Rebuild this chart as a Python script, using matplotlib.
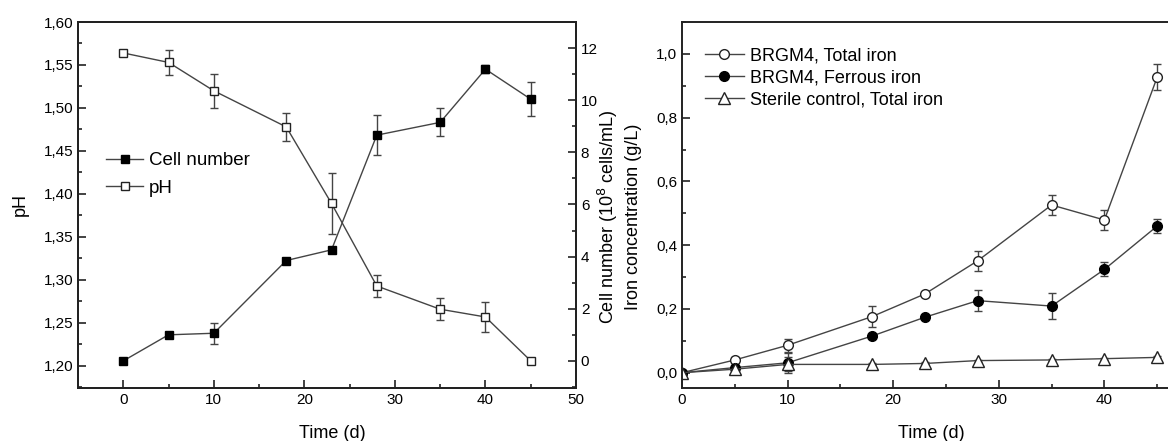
import matplotlib
matplotlib.use("Agg")
import matplotlib.pyplot as plt
from matplotlib.ticker import MultipleLocator, FuncFormatter

plt.rcParams['font.family'] = ['Liberation Sans', 'DejaVu Sans']

# left panel: pH and cell number vs time
days = [0, 5, 10, 18, 23, 28, 35, 40, 45]
ph = [1.564, 1.553, 1.520, 1.478, 1.389, 1.293, 1.266, 1.257, 1.206]
ph_err = [0.002, 0.015, 0.020, 0.016, 0.035, 0.013, 0.013, 0.017, 0.002]
cells = [0.0, 1.0, 1.06, 3.85, 4.26, 8.66, 9.15, 11.19, 10.04]
cells_err = [0.05, 0.05, 0.41, 0.08, 0.08, 0.76, 0.54, 0.15, 0.66]

# right panel: iron concentration vs time
total_iron = [0.0, 0.040, 0.086, 0.176, 0.247, 0.351, 0.526, 0.479, 0.927]
total_iron_err = [0.003, 0.010, 0.020, 0.033, 0.006, 0.031, 0.031, 0.030, 0.040]
ferrous_iron = [0.0, 0.016, 0.031, 0.115, 0.174, 0.226, 0.209, 0.324, 0.460]
ferrous_iron_err = [0.003, 0.006, 0.032, 0.006, 0.006, 0.032, 0.042, 0.022, 0.021]
sterile_iron = [0.0, 0.011, 0.026, 0.026, 0.029, 0.038, 0.040, 0.044, 0.048]
sterile_iron_err = [0.002, 0.004, 0.022, 0.003, 0.003, 0.003, 0.003, 0.003, 0.003]

LINE = '#444444'
comma = lambda fmt: FuncFormatter(lambda v, p: (fmt % v).replace('.', ','))

fig = plt.figure(figsize=(11.68, 4.41), dpi=100)


def style(ax, left=True, right=False):
    ax.tick_params(which='both', direction='in', labelsize=11, top=False,
                   left=left, right=right, width=1.2, color='#222222')
    ax.tick_params(which='major', length=6)
    ax.tick_params(which='minor', length=3)
    for s in ax.spines.values():
        s.set_linewidth(1.4)
        s.set_color('#222222')


def series(ax, y, err, marker, face, label, ms):
    c = ax.errorbar(days, y, yerr=err, color=LINE, lw=1, marker=marker, ms=ms,
                    mfc=face, mec='#222222' if face == 'white' else 'black',
                    ecolor=LINE, capsize=3, elinewidth=1)
    c.lines[0].set_label(label)
    return c.lines[0]


# ---- left panel
ax1 = fig.add_axes([78 / 1168, 53 / 441, 498 / 1168, 366 / 441])
h_ph = series(ax1, ph, ph_err, 's', 'white', 'pH', 6)
ax1.set_xlim(-5, 50)
ax1.set_ylim(1.1744, 1.60)
ax1.xaxis.set_major_locator(MultipleLocator(10))
ax1.xaxis.set_minor_locator(MultipleLocator(5))
ax1.yaxis.set_major_locator(MultipleLocator(0.05))
ax1.yaxis.set_minor_locator(MultipleLocator(0.025))
ax1.yaxis.set_major_formatter(comma('%.2f'))
ax1.set_xlabel('Time (d)', fontsize=13)
ax1.set_ylabel('pH', fontsize=13)
ax1.yaxis.set_label_coords(-0.098, 0.5)
ax1.xaxis.set_label_coords(0.51, -0.102)
style(ax1)

ax1b = ax1.twinx()
h_cells = series(ax1b, cells, cells_err, 's', 'black', 'Cell number', 6)
ax1b.set_ylim(-1.04, 13.0)
ax1b.yaxis.set_major_locator(MultipleLocator(2))
ax1b.yaxis.set_minor_locator(MultipleLocator(1))
ax1b.set_ylabel('Cell number (10$^8$ cells/mL)', fontsize=13)
ax1b.yaxis.set_label_coords(1.04, 0.467)
style(ax1b, left=False, right=True)

ax1b.legend([h_cells, h_ph], ['Cell number', 'pH'], loc='upper left',
            bbox_to_anchor=(0.022, 0.69), frameon=False, fontsize=13.5,
            handlelength=2.0, handletextpad=0.3, labelspacing=0.55)

# ---- right panel (extends past the right edge of the figure)
ax2 = fig.add_axes([682 / 1168, 53 / 441, 528 / 1168, 366 / 441])
h1 = series(ax2, total_iron, total_iron_err, 'o', 'white', 'BRGM4, Total iron', 7)
h2 = series(ax2, ferrous_iron, ferrous_iron_err, 'o', 'black', 'BRGM4, Ferrous iron', 7)
h3 = series(ax2, sterile_iron, sterile_iron_err, '^', 'white', 'Sterile control, Total iron', 8)
ax2.set_xlim(0, 50)
ax2.set_ylim(-0.048, 1.10)
ax2.set_xticks([0, 10, 20, 30, 40])
ax2.xaxis.set_minor_locator(MultipleLocator(5))
ax2.yaxis.set_major_locator(MultipleLocator(0.2))
ax2.yaxis.set_minor_locator(MultipleLocator(0.1))
ax2.yaxis.set_major_formatter(comma('%.1f'))
ax2.set_xlabel('Time (d)', fontsize=13)
ax2.set_ylabel('Iron concentration (g/L)', fontsize=13)
ax2.yaxis.set_label_coords(-0.076, 0.467)
ax2.xaxis.set_label_coords(0.472, -0.102)
style(ax2)
ax2.legend([h1, h2, h3], [h.get_label() for h in (h1, h2, h3)], loc='upper left',
           bbox_to_anchor=(0.012, 0.975), frameon=False, fontsize=13,
           handlelength=2.2, handletextpad=0.3, labelspacing=0.28)

fig.savefig('out.png', dpi=100)
